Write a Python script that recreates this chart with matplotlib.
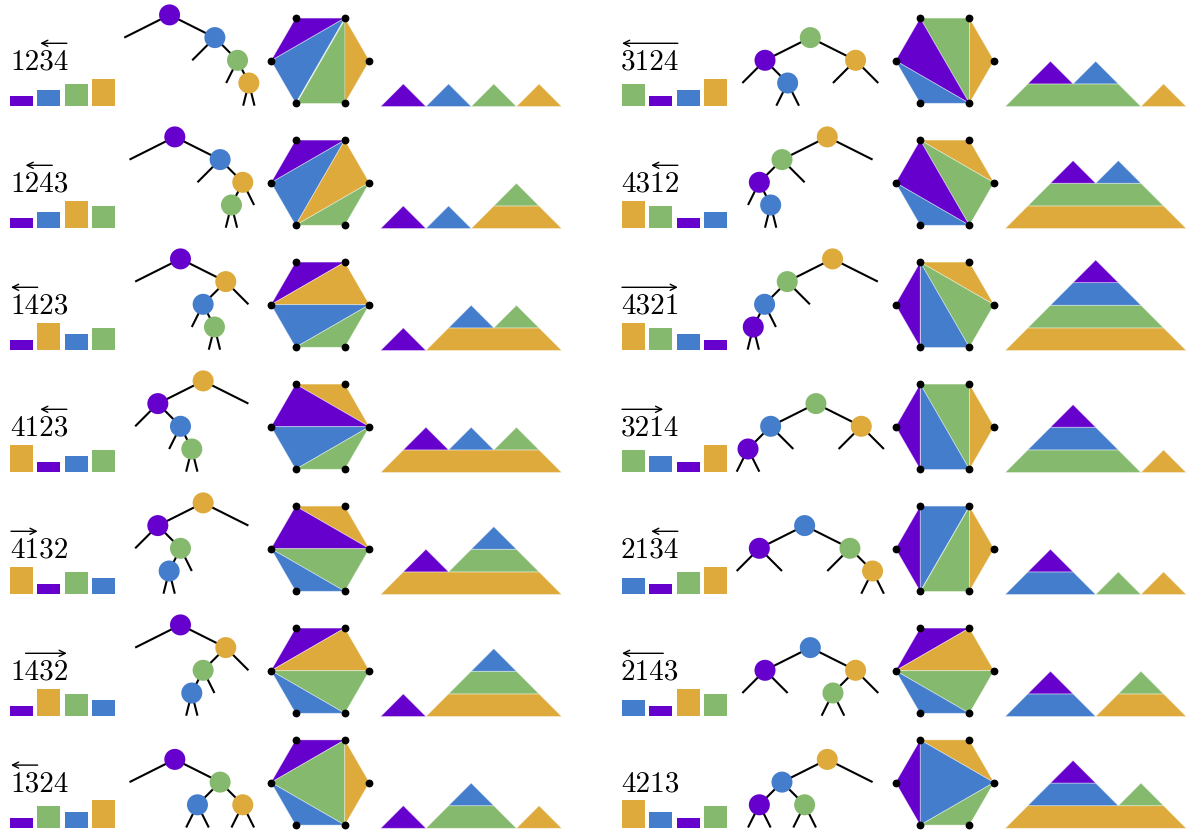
import numpy as np
import matplotlib
matplotlib.use("Agg")
import matplotlib.pyplot as plt
from matplotlib.patches import Circle, Polygon

# permutations, left column then right column (top to bottom)
perms_left = ["1234", "1243", "1423", "4123", "4132", "1432", "1324"]
perms_right = ["3124", "4312", "4321", "3214", "2134", "2143", "4213"]

# permutation whose triangulation is drawn in the hexagon
# (the 2143 cell of the reference shows the 1432 triangulation)
hex_left = ["1234", "1243", "1423", "4123", "4132", "1432", "1324"]
hex_right = ["3124", "4312", "4321", "3214", "2134", "1432", "4213"]

# arrow over the label: (first digit, last digit + 1, direction)
arrows_left = [(2, 4, "l"), (1, 3, "l"), (0, 2, "l"), (2, 4, "l"),
               (0, 2, "r"), (1, 4, "r"), (0, 2, "l")]
arrows_right = [(0, 4, "l"), (2, 4, "l"), (0, 4, "r"), (0, 3, "r"),
                (2, 4, "l"), (0, 3, "l"), None]

# one colour per value 1..4
value_colors = {1: "#6600cc", 2: "#437dcc", 3: "#85ba6e", 4: "#ddaa3b"}

# ---- layout (pixels) ----
W, H = 1190, 832
row_base = [105.7, 227.7, 349.7, 471.7, 593.7, 715.7, 827.5]
cols = [dict(label=10.0, bars=10.0, tree=191.8, hexa=320.2, mount=380.7),
        dict(label=621.0, bars=621.8, tree=810.3, hexa=944.8, mount=1005.2)]
FS = 21                      # label font size
ADV = FS * 100 / 72 * 0.5    # cmr10 digit advance in px
BAR_W, BAR_STEP, BAR_UNIT = 23.0, 27.4, 5.77
TREE_DX, TREE_DY, NODE_R = 45.3, 22.7, 10.5
HEX_R = 49.2
MOUNT_U = 45.25

fig = plt.figure(figsize=(11.9, 8.32), dpi=100)
ax = fig.add_axes([0, 0, 1, 1])
ax.set_xlim(0, W)
ax.set_ylim(H, 0)
ax.set_aspect("equal")
ax.axis("off")


def bst(perm):
    vals = [int(c) for c in perm]
    root, left, right = vals[0], {}, {}
    for v in vals[1:]:
        n = root
        while True:
            side = left if v < n else right
            if n in side:
                n = side[n]
            else:
                side[n] = v
                break
    return root, left, right


def subtree(n, left, right):
    out = [n]
    for ch in (left.get(n), right.get(n)):
        if ch is not None:
            out += subtree(ch, left, right)
    return out


def draw_label(perm, arrow, x, b):
    ax.text(x, b - 36.4, perm, fontsize=FS, family="cmr10",
            ha="left", va="baseline")
    if arrow is None:
        return
    i0, i1, d = arrow
    xa, xb = x + i0 * ADV + 1.0, x + i1 * ADV - 1.5
    y = b - 62.4
    tip, tail = (xa, xb) if d == "l" else (xb, xa)
    ax.annotate("", xy=(tip, y), xytext=(tail, y),
                arrowprops=dict(arrowstyle="->", lw=1.0, color="black",
                                shrinkA=0, shrinkB=0, mutation_scale=11))


def draw_bars(perm, x0, b):
    vals = np.array([int(c) for c in perm])
    xs = x0 + BAR_STEP * np.arange(len(vals))
    ax.bar(xs, -BAR_UNIT * (vals + 0.68), bottom=b, width=BAR_W, align="edge",
           color=[value_colors[v] for v in vals], linewidth=0)


def draw_tree(root, left, right, xc, b):
    pos, segs = {}, []

    def rec(n, x, lev):
        pos[n] = (x, lev)
        dx = TREE_DX / 2 ** lev
        for s, ch in ((-1, left.get(n)), (1, right.get(n))):
            segs.append((x, lev, x + s * dx, lev + 1))
            if ch is not None:
                rec(ch, x + s * dx, lev + 1)

    rec(root, 0.0, 0)
    depth = max(s[3] for s in segs)
    xs = [s[2] for s in segs] + [p[0] - NODE_R for p in pos.values()] + \
         [p[0] + NODE_R for p in pos.values()]
    shift = xc - (min(xs) + max(xs)) / 2

    def Y(lev):
        return b - (depth - lev) * TREE_DY

    for x0, l0, x1, l1 in segs:
        ax.plot([x0 + shift, x1 + shift], [Y(l0), Y(l1)], color="black",
                lw=1.5, solid_capstyle="butt", zorder=2)
    for n, (x, lev) in pos.items():
        ax.add_patch(Circle((x + shift, Y(lev)), NODE_R,
                            color=value_colors[n], lw=0, zorder=3))


def draw_hexagon(root, left, right, cx, b):
    cy = b - 45.0
    ang = np.radians([120, 180, 240, 300, 0, 60])
    vx = cx + HEX_R * np.cos(ang)
    vy = cy - HEX_R * np.sin(ang)
    for n in subtree(root, left, right):
        sub = subtree(n, left, right)
        tri = [min(sub) - 1, n, max(sub) + 1]
        ax.add_patch(Polygon(np.c_[vx[tri], vy[tri]], closed=True,
                             facecolor=value_colors[n],
                             edgecolor=(1, 1, 1, 0.45), lw=0.6, zorder=2))
    ax.plot(vx, vy, "o", color="black", ms=4.6, zorder=4)


def draw_mountain(root, left, right, x0, b):
    base = b + 0.8
    hh = MOUNT_U / 2

    def rec(n, x, lev):
        if n is None:
            return
        w = 1 + (len(subtree(left[n], left, right)) if n in left else 0)
        y0, y1 = base - lev * hh, base - (lev + 1) * hh
        xl, xr = x0 + x * MOUNT_U, x0 + (x + w) * MOUNT_U
        ax.add_patch(Polygon([(xl, y0), (xr, y0), (xr - hh, y1), (xl + hh, y1)],
                             closed=True, facecolor=value_colors[n],
                             edgecolor=(1, 1, 1, 0.45), lw=0.6, zorder=2))
        rec(left.get(n), x + 0.5, lev + 1)
        rec(right.get(n), x + w, lev)

    rec(root, 0.0, 0)


for c, (perms, hexes, arrows) in enumerate([(perms_left, hex_left, arrows_left),
                                             (perms_right, hex_right, arrows_right)]):
    col = cols[c]
    for r, perm in enumerate(perms):
        b = row_base[r]
        root, left, right = bst(perm)
        draw_label(perm, arrows[r], col["label"], b)
        draw_bars(perm, col["bars"], b)
        draw_tree(root, left, right, col["tree"], b)
        draw_hexagon(*bst(hexes[r]), col["hexa"], b)
        draw_mountain(root, left, right, col["mount"], b)

fig.savefig("out.png", dpi=100)
